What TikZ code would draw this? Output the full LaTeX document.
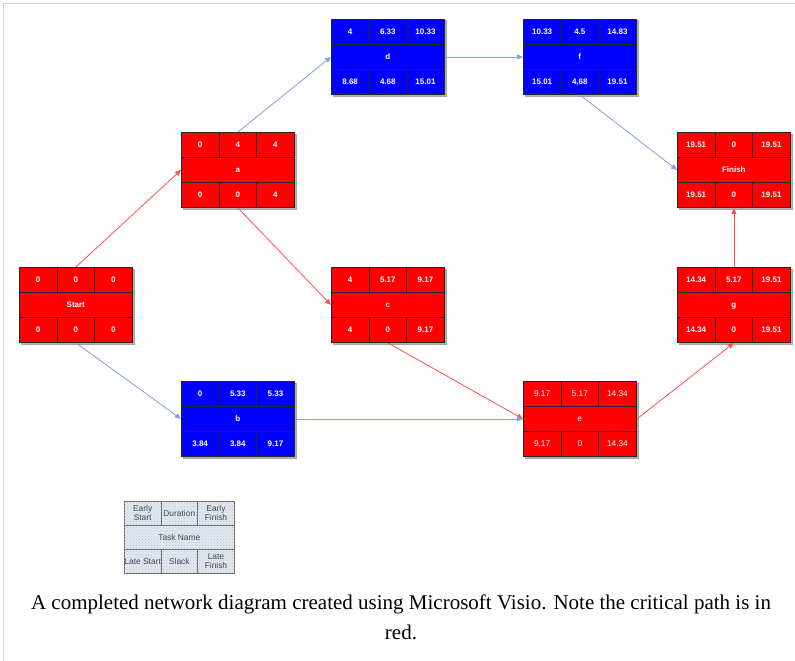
\documentclass[tikz,border=0pt]{standalone}
\usepackage{fontspec}
\setmainfont{Liberation Serif}
\setsansfont{Liberation Sans}
\usetikzlibrary{calc,arrows.meta,patterns}

\definecolor{critfill}{RGB}{255,0,0}
\definecolor{slackfill}{RGB}{0,0,255}
\definecolor{critline}{RGB}{255,80,80}
\definecolor{slackline}{RGB}{130,160,225}
\definecolor{legendfill}{RGB}{226,232,240}
\definecolor{legenddots}{RGB}{190,200,214}
\definecolor{legendtext}{RGB}{70,70,70}
\definecolor{framegray}{RGB}{215,215,215}

\tikzset{
  box/.style={minimum width=113pt, minimum height=75pt, inner sep=0pt,
    anchor=north west, draw=black, line width=0.9pt},
  crit/.style={box, fill=critfill},
  slack/.style={box, fill=slackfill},
  cell/.style={draw=black!85, line width=0.6pt, minimum height=25pt,
    minimum width=37.67pt, inner sep=0pt, anchor=north west, text=white,
    text height=6pt, text depth=0pt,
    font=\sffamily\bfseries\fontsize{8}{9}\selectfont},
  widecell/.style={cell, minimum width=113pt},
  lightcell/.style={font=\sffamily\fontsize{8.3}{9}\selectfont},
  critarrow/.style={draw=critline, line width=0.8pt,
    -{Triangle[length=6pt,width=5pt]}},
  slackarrow/.style={draw=slackline, line width=0.8pt,
    -{Triangle[length=6pt,width=5pt]}},
  leg/.style={draw=black!60, line width=0.6pt, fill=legendfill,
    postaction={pattern=crosshatch dots, pattern color=legenddots},
    minimum height=24pt, minimum width=36.67pt, inner sep=0pt,
    anchor=north west, text=legendtext, align=center,
    font=\sffamily\fontsize{8.4}{9.2}\selectfont},
  legwide/.style={leg, minimum width=110pt},
  caption/.style={font=\fontsize{21}{30}\selectfont, text=black, inner sep=0pt}
}

% task box: name, top-left corner, style, early start, duration,
% early finish, label, late start, slack; late finish is set by \latefinish
\newcommand\taskbox[9]{%
  \node[#3, draw=gray!70, fill=gray!60] at ($(#2)+(1.5,1.5)$) {};
  \node[#3] (#1) at (#2) {};
  \node[cell] (#1-es)  at ($(#1.north west)+(0,0)$)     {#4};
  \node[cell] (#1-du)  at ($(#1.north west)+(37.67,0)$) {#5};
  \node[cell] (#1-ef)  at ($(#1.north west)+(75.33,0)$) {#6};
  \node[widecell] (#1-nm) at ($(#1.north west)+(0,25)$) {#7};
  \node[cell] (#1-ls)  at ($(#1.north west)+(0,50)$)    {#8};
  \node[cell] (#1-sl)  at ($(#1.north west)+(37.67,50)$) {#9};
}
\newcommand\latefinish[2]{%
  \node[cell] (#1-lf) at ($(#1.north west)+(75.33,50)$) {#2};
}

\begin{document}
\begin{tikzpicture}[x=1pt, y=-1pt]
  \useasboundingbox (0,0) rectangle (795,661);
  \fill[white] (0,0) rectangle (795,661);

  % page frame
  \draw[framegray, line width=1.2pt] (3.5,661) -- (3.5,3.5) -- (795,3.5);

  % tasks
  \taskbox{d}{331,19}{slack}{4}{6.33}{10.33}{d}{8.68}{4.68}
  \latefinish{d}{15.01}
  \taskbox{f}{523,19}{slack}{10.33}{4.5}{14.83}{f}{15.01}{4,68}
  \latefinish{f}{19.51}
  \taskbox{a}{181,132}{crit}{0}{4}{4}{a}{0}{0}
  \latefinish{a}{4}
  \taskbox{fin}{677,132}{crit}{19.51}{0}{19.51}{Finish}{19.51}{0}
  \latefinish{fin}{19.51}
  \taskbox{start}{19,267}{crit}{0}{0}{0}{Start}{0}{0}
  \latefinish{start}{0}
  \taskbox{c}{331,267}{crit}{4}{5.17}{9.17}{c}{4}{0}
  \latefinish{c}{9.17}
  \taskbox{g}{677,267}{crit}{14.34}{5.17}{19.51}{g}{14.34}{0}
  \latefinish{g}{19.51}
  \taskbox{b}{181,381}{slack}{0}{5.33}{5.33}{b}{3.84}{3.84}
  \latefinish{b}{9.17}
  \begin{scope}[cell/.append style={lightcell}]
    \taskbox{e}{523,381}{crit}{9.17}{5.17}{14.34}{e}{9.17}{0}
    \latefinish{e}{14.34}
  \end{scope}

  % dependencies
  \draw[critarrow]  (start.north) -- (a.west);
  \draw[slackarrow] (start.south) -- (b.west);
  \draw[slackarrow] (a.north) -- (d.west);
  \draw[critarrow]  (a.south) -- (c.west);
  \draw[slackarrow] (d.east) -- (f.west);
  \draw[slackarrow] (f.south) -- (fin.west);
  \draw[critarrow]  (c.south) -- (e.west);
  \draw[slackarrow] (b.east) -- (e.west);
  \draw[critarrow]  (e.east) -- (g.south);
  \draw[critarrow]  (g.north) -- (fin.south);

  % legend
  \node[leg] (k-es) at (124,501) {Early\\Start};
  \node[leg] (k-du) at (160.67,501) {Duration};
  \node[leg] (k-ef) at (197.33,501) {Early\\Finish};
  \node[legwide] (k-nm) at (124,525) {Task Name};
  \node[leg] (k-ls) at (124,549) {Late Start};
  \node[leg] (k-sl) at (160.67,549) {Slack};
  \node[leg] (k-lf) at (197.33,549) {Late\\Finish};

  % caption
  \node[caption, anchor=base] (cap1) at (401,609)
    {A completed network diagram created using Microsoft Visio. Note the critical path is in};
  \node[caption, anchor=base] (cap2) at (401,639) {red.};
\end{tikzpicture}
\end{document}
